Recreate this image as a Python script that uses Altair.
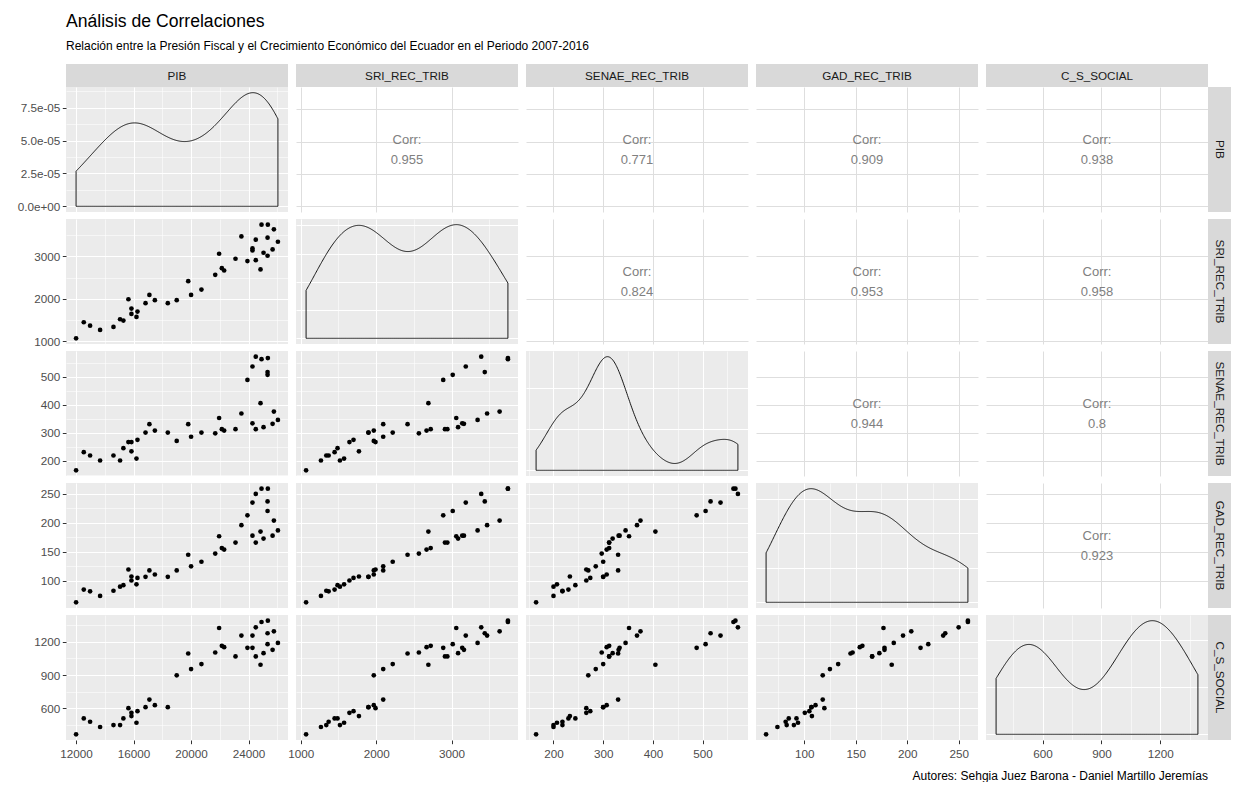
import altair as alt
import numpy as np
import pandas as pd

variables = ["PIB", "SRI_REC_TRIB", "SENAE_REC_TRIB", "GAD_REC_TRIB", "C_S_SOCIAL"]

pib = [12000, 12534, 12974, 13670, 14600, 15060, 15290, 15640, 15850, 15850,
       16200, 16270, 16830, 17100, 17480, 18380, 19000, 19800, 20000, 20720,
       21680, 21950, 22140, 22300, 23090, 23500, 23920, 24270, 24270, 24500,
       24500, 24830, 24900, 25040, 25320, 25340, 25320, 25670, 25760, 26040]
sri = [1071, 1449, 1370, 1268, 1339, 1520, 1488, 1992, 1772, 1646,
       1575, 1700, 1898, 2094, 1969, 1898, 1969, 2417, 2094, 2220,
       2567, 3063, 2724, 2669, 2945, 3472, 2890, 3189, 3142, 3394,
       2913, 2693, 3748, 3087, 3016, 3748, 3441, 3165, 3638, 3346]
senae = [165, 230, 218, 200, 218, 200, 244, 266, 233, 266,
         207, 274, 300, 330, 307, 300, 270, 330, 285, 300,
         297, 352, 312, 307, 312, 368, 488, 536, 333, 571,
         312, 405, 562, 319, 506, 566, 516, 331, 375, 345]
gad = [63, 85, 82, 74, 83, 90, 92.5, 119.6, 107.5, 100.6,
       94, 105, 107, 118, 111, 107, 118, 145, 125, 133,
       147, 177, 156.5, 154, 166, 196, 213, 235, 178, 250,
       166, 185, 259, 173, 220.5, 259, 237, 178, 204, 187]
css = [363, 507, 477, 429, 447, 447, 507, 600, 528, 558,
       468, 573, 609, 678, 627, 609, 897, 1095, 954, 999,
       1104, 1326, 1164, 1152, 1068, 1257, 1146, 1257, 1146, 1332,
       1068, 993, 1380, 1098, 1179, 1392, 1278, 1128, 1296, 1191]

# correlation labels, upper triangle read row by row
corr_labels = ["0.955", "0.771", "0.909", "0.938",
               "0.824", "0.953", "0.958",
               "0.944", "0.8",
               "0.923"]

major_ticks = {
    "PIB": [12000, 16000, 20000, 24000],
    "SRI_REC_TRIB": [1000, 2000, 3000],
    "SENAE_REC_TRIB": [200, 300, 400, 500],
    "GAD_REC_TRIB": [100, 150, 200, 250],
    "C_S_SOCIAL": [600, 900, 1200],
}
minor_ticks = {
    "PIB": [14000, 18000, 22000, 26000],
    "SRI_REC_TRIB": [1500, 2500, 3500],
    "SENAE_REC_TRIB": [150, 250, 350, 450, 550],
    "GAD_REC_TRIB": [75, 125, 175, 225],
    "C_S_SOCIAL": [450, 750, 1050, 1350],
}
# density axis ticks, in units of 1e-05
density_major = [0, 2.5, 5, 7.5]
density_minor = [1.25, 3.75, 6.25, 8.75]

title_text = "Análisis de Correlaciones"
subtitle_text = "Relación entre la Presión Fiscal y el Crecimiento Económico del Ecuador en el Periodo 2007-2016"
caption_text = "Autores: Sehgia Juez Barona - Daniel Martillo Jeremías"

df = pd.DataFrame({v: vals for v, vals in zip(variables, [pib, sri, senae, gad, css])})

W, H = 222, 125
HSP, VSP = 8, 7
STRIP = 23
AXIS_EXTENT = 53
FONT = "Liberation Sans"
PAD_Y = H * 0.05 / 1.1


def domain(v):
    lo, hi = float(df[v].min()), float(df[v].max())
    r = hi - lo
    return [lo - 0.05 * r, hi + 0.05 * r]


def nrd0(v):
    x = df[v].to_numpy(float)
    sd = x.std(ddof=1)
    q75, q25 = np.percentile(x, [75, 25])
    lo = min(sd, (q75 - q25) / 1.34)
    return float(0.9 * lo * len(x) ** -0.2)


def major_test(majors):
    return "(" + " || ".join(f"abs(datum.value - {m}) < 1e-9" for m in majors) + ")"


def cond(majors, a, b):
    return {"condition": {"test": major_test(majors), "value": a}, "value": b}


def grey_axis(majors, minors, show, orient, label_expr="datum.label"):
    test = major_test(majors)
    kw = dict(values=sorted(majors + minors), title=None, domain=False, grid=True,
              gridColor="white", gridWidth=cond(majors, 1.1, 0.55),
              labels=show, ticks=show, labelOverlap=False, labelFlush=False, format="d")
    if show:
        kw.update(tickColor=cond(majors, "#333333", "rgba(0,0,0,0)"),
                  labelExpr=f"{test} ? {label_expr} : ''")
        if orient == "left":
            kw.update(minExtent=AXIS_EXTENT, maxExtent=AXIS_EXTENT, labelPadding=2.5)
        else:
            kw.update(labelPadding=5)
    return alt.Axis(**kw)


def scale_for(v):
    return alt.Scale(domain=domain(v), nice=False, zero=False)


def scatter(xv, yv, show_x, show_y):
    return alt.Chart(df).mark_circle(size=22, color="black", opacity=1).encode(
        x=alt.X(f"{xv}:Q", scale=scale_for(xv),
                axis=grey_axis(major_ticks[xv], minor_ticks[xv], show_x, "bottom")),
        y=alt.Y(f"{yv}:Q", scale=scale_for(yv),
                axis=grey_axis(major_ticks[yv], minor_ticks[yv], show_y, "left")),
    )


def density(v, show_x, show_y):
    lo, hi = float(df[v].min()), float(df[v].max())
    if show_y:
        yaxis = grey_axis(density_major, density_minor, True, "left",
                          label_expr="(datum.value == 0 ? '0.0e+00' : format(datum.value, '.1f') + 'e-05')")
    else:
        yaxis = alt.Axis(title=None, labels=False, ticks=False, domain=False, grid=True,
                         gridColor="white", gridWidth=1.1, tickCount=4)
    return alt.Chart(df).transform_density(
        v, as_=["value", "density"], extent=[lo, hi], bandwidth=nrd0(v), steps=300
    ).transform_calculate(d="datum.density * 1e5", base="0").mark_area(
        color="black", fillOpacity=0, stroke="black", strokeWidth=0.9
    ).encode(
        x=alt.X("value:Q", scale=scale_for(v),
                axis=grey_axis(major_ticks[v], minor_ticks[v], show_x, "bottom")),
        y=alt.Y("d:Q", scale=alt.Scale(zero=False, nice=False, padding=PAD_Y), axis=yaxis),
        y2="base:Q",
    )


def corr_panel(xv, yv, label):
    pts = alt.Chart(df).mark_point(opacity=0).encode(
        x=alt.X(f"{xv}:Q", scale=scale_for(xv),
                axis=alt.Axis(values=major_ticks[xv], title=None, labels=False, ticks=False,
                              domain=False, grid=True, gridColor="#dedede", gridWidth=1)),
        y=alt.Y(f"{yv}:Q", scale=scale_for(yv),
                axis=alt.Axis(values=major_ticks[yv], title=None, labels=False, ticks=False,
                              domain=False, grid=True, gridColor="#dedede", gridWidth=1)),
    )
    txt = alt.Chart(pd.DataFrame({"label": [f"Corr:\n{label}"]})).mark_text(
        lineBreak="\n", font=FONT, fontSize=13, color="#808080", lineHeight=20
    ).encode(x=alt.value(W / 2), y=alt.value(H / 2 - 10), text="label:N")
    return [pts, txt]


def top_strip(name):
    d = pd.DataFrame({"label": [name]})
    rect = alt.Chart(d).mark_rect(color="#d9d9d9").encode(
        x=alt.value(0), x2=alt.value(W), y=alt.value(-STRIP), y2=alt.value(0))
    txt = alt.Chart(d).mark_text(font=FONT, fontSize=11.7, color="#1a1a1a").encode(
        x=alt.value(W / 2), y=alt.value(-STRIP / 2), text="label:N")
    return [rect, txt]


def right_strip(name):
    d = pd.DataFrame({"label": [name]})
    rect = alt.Chart(d).mark_rect(color="#d9d9d9").encode(
        x=alt.value(W), x2=alt.value(W + STRIP), y=alt.value(0), y2=alt.value(H))
    txt = alt.Chart(d).mark_text(font=FONT, fontSize=11.7, color="#1a1a1a", angle=90).encode(
        x=alt.value(W + STRIP / 2), y=alt.value(H / 2), text="label:N")
    return [rect, txt]


def caption_layer():
    d = pd.DataFrame({"label": [caption_text]})
    return alt.Chart(d).mark_text(font=FONT, fontSize=12, color="black", align="right",
                                  baseline="middle").encode(
        x=alt.value(W), y=alt.value(H + 36), text="label:N")


n = len(variables)
corr_iter = iter(corr_labels)
cells = []
for i, yv in enumerate(variables):
    for j, xv in enumerate(variables):
        show_x = i == n - 1
        show_y = j == 0
        white = False
        if i == j:
            layers = [density(xv, show_x, show_y)]
        elif i > j:
            layers = [scatter(xv, yv, show_x, show_y)]
        else:
            layers = corr_panel(xv, yv, next(corr_iter))
            white = True
        if i == 0:
            layers += top_strip(xv)
        if j == n - 1:
            layers += right_strip(yv)
        if i == n - 1 and j == n - 1:
            layers.append(caption_layer())
        cell = alt.layer(*layers).properties(width=W, height=H)
        if white:
            cell = cell.properties(view=alt.ViewBackground(fill="white", stroke=None))
        cells.append(cell)

chart = alt.concat(*cells, columns=n, spacing={"row": VSP, "column": HSP}, bounds="flush").properties(
    padding={"left": 5, "top": 5, "right": 0, "bottom": 0},
    title=alt.TitleParams(
        text=title_text, subtitle=subtitle_text, anchor="start", dx=AXIS_EXTENT,
        font=FONT, fontSize=17.6, fontWeight="normal", color="black",
        subtitleFont=FONT, subtitleFontSize=12, subtitleColor="black",
        subtitlePadding=10, offset=12,
    )
).configure_view(stroke=None, fill="#ebebeb").configure_axis(
    labelFont=FONT, labelFontSize=11.7, labelColor="#4d4d4d", tickSize=3.7,
    tickWidth=1,
)

chart.save("out.html", embed_options={"renderer": "svg", "actions": False})
